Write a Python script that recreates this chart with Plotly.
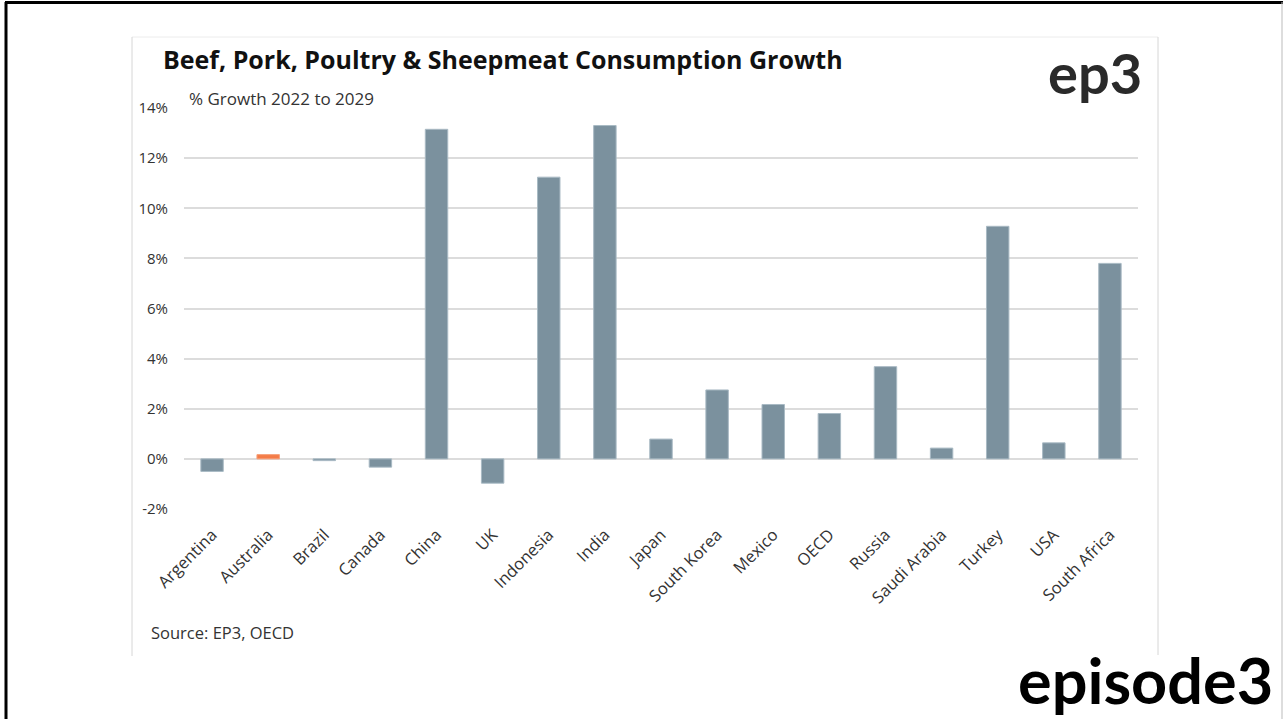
import plotly.graph_objects as go

countries = ["Argentina", "Australia", "Brazil", "Canada", "China", "UK", "Indonesia", "India",
             "Japan", "South Korea", "Mexico", "OECD", "Russia", "Saudi Arabia", "Turkey", "USA",
             "South Africa"]
growth = [-0.50, 0.17, -0.07, -0.33, 13.15, -0.97, 11.24, 13.30,
          0.79, 2.75, 2.17, 1.81, 3.68, 0.43, 9.28, 0.64, 7.80]
highlight = "Australia"

y_ticks = [-2, 0, 2, 4, 6, 8, 10, 12, 14]
y_tick_labels = ["-2%", "0%", "2%", "4%", "6%", "8%", "10%", "12%", "14%"]

W, H = 1283, 719
L, R, T, B = 184, 1138, 108, 509


def px(x):
    return (x - L) / (R - L)


def py(y):
    return (B - y) / (B - T)


bar_colors = ["#f47c48" if c == highlight else "#7b919e" for c in countries]
line_colors = ["#f7a07a" if c == highlight else "#a9bac4" for c in countries]

fig = go.Figure(go.Bar(
    x=countries, y=growth,
    marker=dict(color=bar_colors, line=dict(color=line_colors, width=1)),
    width=0.4,
))

font_family = "Open Sans, sans-serif"
logo_family = "Lato, sans-serif"

fig.update_layout(
    width=W, height=H,
    margin=dict(l=L, r=W - R, t=T, b=H - B),
    paper_bgcolor="white", plot_bgcolor="white",
    showlegend=False,
    font=dict(family=font_family, color="#333333", size=15),
    xaxis=dict(
        tickangle=-45, tickfont=dict(size=16.5, color="#333333"),
        showgrid=False, showline=False, zeroline=False,
        ticks="", ticklabelstandoff=12,
    ),
    yaxis=dict(
        range=[-2, 14], tickvals=y_ticks, ticktext=y_tick_labels,
        tickfont=dict(size=15, color="#333333"),
        showgrid=True, gridcolor="#dcdcdc", gridwidth=2,
        zeroline=True, zerolinecolor="#dcdcdc", zerolinewidth=2,
        showline=False, ticklabelstandoff=15,
    ),
)

shapes = []
# outer frame
shapes.append(dict(type="line", xref="paper", yref="paper", x0=px(5), x1=px(1283), y0=py(2.5), y1=py(2.5),
                   line=dict(color="black", width=3)))
shapes.append(dict(type="line", xref="paper", yref="paper", x0=px(6), x1=px(6), y0=py(2), y1=py(719),
                   line=dict(color="black", width=3)))
shapes.append(dict(type="line", xref="paper", yref="paper", x0=px(1282), x1=px(1282), y0=py(2), y1=py(719),
                   line=dict(color="#bbbbbb", width=1)))
# chart panel border
shapes.append(dict(type="line", xref="paper", yref="paper", x0=px(132), x1=px(1158), y0=py(37), y1=py(37),
                   line=dict(color="#ececec", width=1)))
shapes.append(dict(type="line", xref="paper", yref="paper", x0=px(132), x1=px(132), y0=py(37), y1=py(656),
                   line=dict(color="#d6d6d6", width=1)))
shapes.append(dict(type="line", xref="paper", yref="paper", x0=px(1158), x1=px(1158), y0=py(37), y1=py(655),
                   line=dict(color="#d6d6d6", width=1)))
fig.update_layout(shapes=shapes)

annotations = [
    dict(text="<b>Beef, Pork, Poultry & Sheepmeat Consumption Growth</b>", x=px(161), y=py(59),
         xanchor="left", yanchor="middle", font=dict(size=25, color="#111111", family=font_family, weight=800)),
    dict(text="% Growth 2022 to 2029", x=px(187), y=py(98),
         xanchor="left", yanchor="middle", font=dict(size=17, color="#333333", family=font_family)),
    dict(text="<b>ep3</b>", x=px(1144), y=py(72),
         xanchor="right", yanchor="middle", font=dict(size=56, color="#2a2a2a", family=logo_family, weight=900)),
    dict(text="Source: EP3, OECD", x=px(149), y=py(632),
         xanchor="left", yanchor="middle", font=dict(size=16.5, color="#333333", family=font_family)),
    dict(text="<b>episode3</b>", x=px(1275), y=py(719),
         xanchor="right", yanchor="bottom", font=dict(size=63, color="#000000", family=logo_family, weight=900)),
]
for a in annotations:
    a.update(xref="paper", yref="paper", showarrow=False)
fig.update_layout(annotations=annotations)

fig.write_html("out.html", config={"displayModeBar": False},
               post_script="document.body.style.margin='0';document.body.style.overflow='hidden';")
